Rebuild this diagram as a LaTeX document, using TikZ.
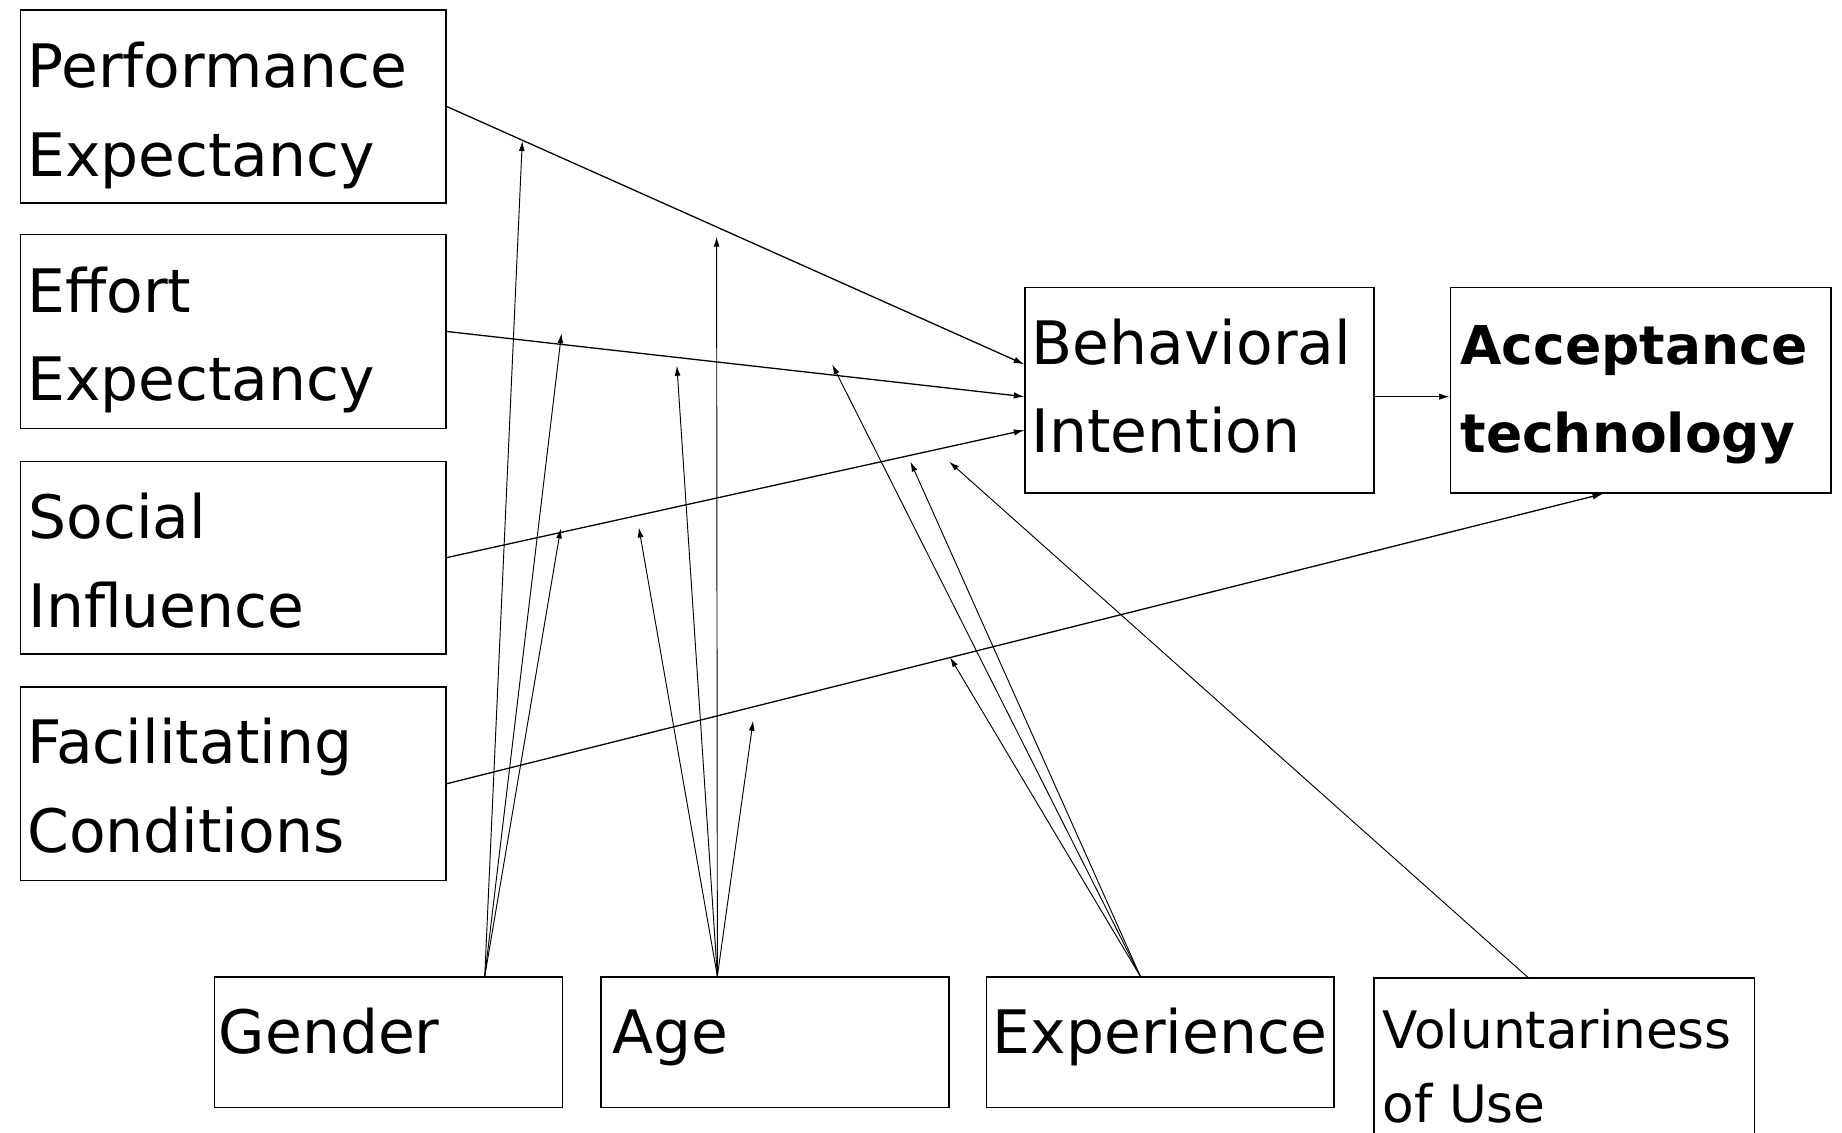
\documentclass[tikz,border=0pt]{standalone}
\usepackage{fontspec}
\setmainfont{DejaVu Sans}
\usetikzlibrary{arrows.meta}
\begin{document}
\begin{tikzpicture}[x=1pt,y=-1pt,
  box/.style={draw, line width=1.3pt, rectangle, inner sep=0pt, anchor=north west},
  lbl/.style={inner sep=0pt, anchor=base west, font=\fontsize{51}{60}\selectfont},
  smalllbl/.style={inner sep=0pt, anchor=base west, font=\fontsize{44}{52}\selectfont},
  boldlbl/.style={inner sep=0pt, anchor=base west, font=\fontsize{45.5}{54}\selectfont\bfseries},
  mainarrow/.style={line width=1.1pt, -{Latex[length=9pt,width=5.5pt]}},
  modarrow/.style={line width=0.8pt, -{Latex[length=8.5pt,width=5pt]}}]
\useasboundingbox (0,0) rectangle (1568,964);

% boxes
\node[box, minimum width=362pt, minimum height=164pt] (pe) at (17,8) {};
\node[box, minimum width=362pt, minimum height=165pt] (ee) at (17,199) {};
\node[box, minimum width=362pt, minimum height=164pt] (si) at (17,392) {};
\node[box, minimum width=362pt, minimum height=165pt] (fc) at (17,584) {};
\node[box, minimum width=297pt, minimum height=175pt] (bi) at (872,244) {};
\node[box, minimum width=324pt, minimum height=175pt] (at) at (1234,244) {};
\node[box, minimum width=296pt, minimum height=111pt] (gender) at (182,831) {};
\node[box, minimum width=296pt, minimum height=111pt] (age) at (511,831) {};
\node[box, minimum width=296pt, minimum height=111pt] (exp) at (839,831) {};
\node[box, minimum width=324pt, minimum height=145pt] (vol) at (1169,832) {};

% texts
\node[lbl] (pe1) at (23,74.3) {Performance};
\node[lbl] (pe2) at (23,150.4) {Expectancy};
\node[lbl] (ee1) at (23,266) {Effort};
\node[lbl] (ee2) at (23,341) {Expectancy};
\node[lbl] (si1) at (24,458) {Social};
\node[lbl] (si2) at (24,534) {Influence};
\node[lbl] (fc1) at (23,650) {Facilitating};
\node[lbl] (fc2) at (23,726) {Conditions};
\node[lbl] (bi1) at (878,310) {Behavioral};
\node[lbl] (bi2) at (878,385.5) {Intention};
\node[boldlbl] (at1) at (1243,310) {Acceptance};
\node[boldlbl] (at2) at (1243,385.5) {technology};
\node[lbl] (g1t) at (186,897) {Gender};
\node[lbl] (a1t) at (521,897) {Age};
\node[lbl] (e1t) at (845,897) {Experience};
\node[smalllbl] (v1t) at (1177,892.4) {Voluntariness};
\node[smalllbl] (v2t) at (1177,955.7) {of Use};

% main paths
\draw[mainarrow] (pe.east) -- ([yshift=22pt]bi.west);
\draw[mainarrow] (ee.east) -- ([yshift=-5.5pt]bi.west);
\draw[mainarrow] (si.east) -- ([yshift=-34pt]bi.west);
\draw[mainarrow] (fc.east) -- ([xshift=-32pt]at.south);
\draw[mainarrow] ([yshift=-5.5pt]bi.east) -- ([yshift=-5.5pt]at.west);

% moderator sources
\coordinate (gs) at ([xshift=82pt]gender.north);
\coordinate (as) at ([xshift=-49pt]age.north);
\coordinate (es) at ([xshift=-17pt]exp.north);
\coordinate (vs) at ([xshift=-31pt]vol.north);

% moderator targets
\coordinate (g1) at (444.6,120);
\coordinate (g2) at (478,283.7);
\coordinate (g3) at (477.3,449.8);
\coordinate (a1) at (610,201.5);
\coordinate (a2) at (576.2,311.3);
\coordinate (a3) at (543.8,449);
\coordinate (a4) at (641.1,613.5);
\coordinate (e1) at (708.4,310.2);
\coordinate (e2) at (775,393);
\coordinate (e3) at (808.7,559.4);
\coordinate (v1) at (808,393);

\draw[modarrow] (gs) -- (g1);
\draw[modarrow] (gs) -- (g2);
\draw[modarrow] (gs) -- (g3);
\draw[modarrow] (as) -- (a1);
\draw[modarrow] (as) -- (a2);
\draw[modarrow] (as) -- (a3);
\draw[modarrow] (as) -- (a4);
\draw[modarrow] (es) -- (e1);
\draw[modarrow] (es) -- (e2);
\draw[modarrow] (es) -- (e3);
\draw[modarrow] (vs) -- (v1);
\end{tikzpicture}
\end{document}
